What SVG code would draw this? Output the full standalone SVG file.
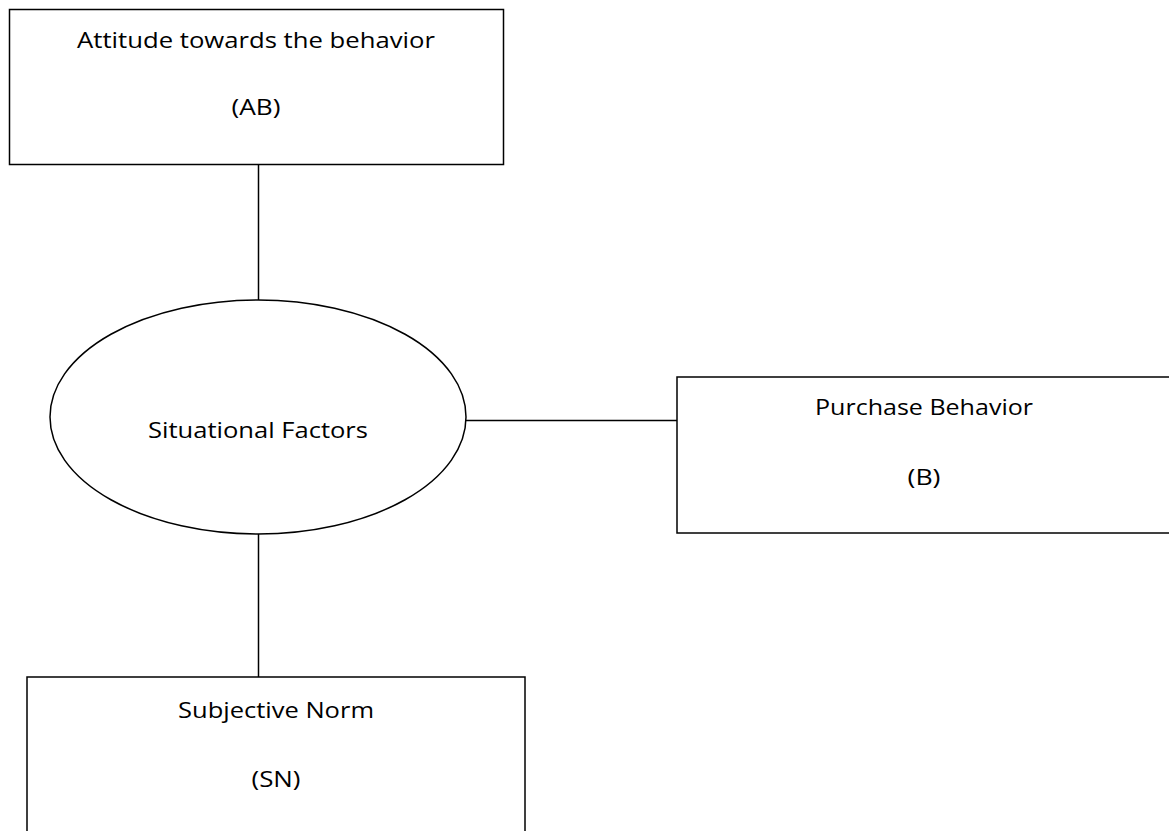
<svg xmlns="http://www.w3.org/2000/svg" width="1169" height="831" viewBox="0 0 1169 831">
<style>
.box{fill:#fff;stroke:#000;stroke-width:1.5}
.conn line{stroke:#000;stroke-width:1.5}
text{font-family:"Open Sans","Liberation Sans",sans-serif;font-size:21px;fill:#000;text-anchor:middle}
</style>
<rect width="1169" height="831" fill="#fff"/>
<g class="conn" id="connectors">
<line x1="258.5" y1="165" x2="258.5" y2="300"/>
<line x1="466" y1="420.5" x2="677" y2="420.5"/>
<line x1="258.5" y1="534" x2="258.5" y2="677"/>
</g>
<g id="node-ab">
<rect class="box" x="9.5" y="9.5" width="494" height="155"/>
<text x="256" y="48" textLength="358" lengthAdjust="spacingAndGlyphs">Attitude towards the behavior</text>
<text x="256" y="115" textLength="49" lengthAdjust="spacingAndGlyphs">(AB)</text>
</g>
<g id="node-sf">
<ellipse class="box" cx="258" cy="417" rx="208" ry="117"/>
<text x="258" y="438" textLength="220" lengthAdjust="spacingAndGlyphs">Situational Factors</text>
</g>
<g id="node-b">
<rect class="box" x="677" y="377" width="500" height="156"/>
<text x="924" y="415" textLength="218" lengthAdjust="spacingAndGlyphs">Purchase Behavior</text>
<text x="924" y="485" textLength="33" lengthAdjust="spacingAndGlyphs">(B)</text>
</g>
<g id="node-sn">
<rect class="box" x="27" y="677" width="498" height="170"/>
<text x="276" y="718" textLength="196" lengthAdjust="spacingAndGlyphs">Subjective Norm</text>
<text x="276" y="787" textLength="49" lengthAdjust="spacingAndGlyphs">(SN)</text>
</g>
</svg>
